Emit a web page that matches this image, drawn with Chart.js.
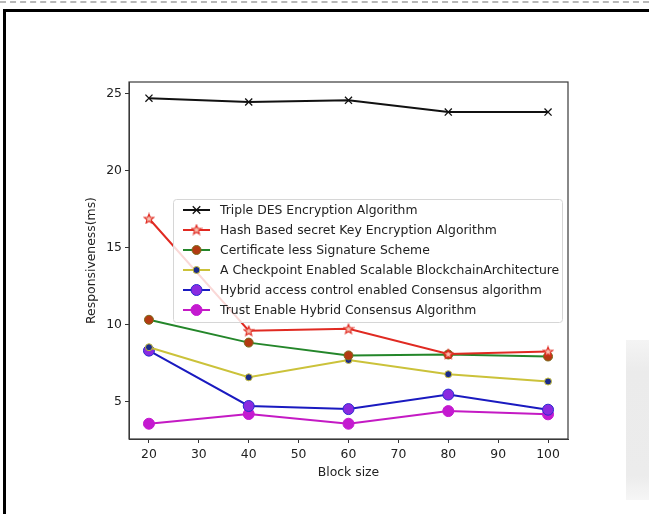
<!DOCTYPE html>
<html lang="en">
<head>
    <meta charset="UTF-8">
    <title>Responsiveness vs Block size</title>
    <script src="https://cdn.jsdelivr.net/npm/chart.js"></script>
    <style>
        body {
            margin: 0;
            background: white;
            overflow: hidden;
            font-family: "DejaVu Sans", sans-serif;
        }
        .dash-line {
            position: absolute;
            left: 0; top: 1px;
            width: 649px; height: 0;
            border-top: 2px dashed #b8b8b8;
        }
        .frame {
            position: absolute;
            left: 3px; top: 9px;
            width: 700px; height: 600px;
            border-left: 3px solid black;
            border-top: 3px solid black;
        }
        .mark {
            position: absolute;
            left: 626px; top: 340px;
            width: 23px; height: 160px;
            background: linear-gradient(#f4f4f4, #ebebeb 20%, #ececec 85%, #f6f6f6);
        }
        .chart-box {
            position: absolute;
            left: 0; top: 0;
            width: 649px; height: 514px;
        }
    </style>
</head>
<body>
    <div class="dash-line"></div>
    <div class="frame"></div>
    <div class="mark"></div>
    <div class="chart-box">
        <canvas id="respChart" width="649" height="514"></canvas>
    </div>
    <script>
        // values
        const blockSizes = [20, 40, 60, 80, 100];
        const tripleDes   = [24.7, 24.45, 24.56, 23.8, 23.8];
        const hashKey     = [16.9, 9.62, 9.75, 8.12, 8.28];
        const certLess    = [10.33, 8.85, 8.02, 8.08, 7.95];
        const checkpoint  = [8.55, 6.6, 7.72, 6.8, 6.33];
        const hybridAcc   = [8.33, 4.74, 4.54, 5.48, 4.5];
        const trustHybrid = [3.59, 4.22, 3.59, 4.41, 4.2];
        const xTicks = [20, 30, 40, 50, 60, 70, 80, 90, 100];
        const yTicks = [5, 10, 15, 20, 25];

        const FONT = { family: 'DejaVu Sans', size: 12.4 };

        // filled 5 point star like matplotlib '*'
        function starImage() {
            const c = document.createElement('canvas');
            c.width = 12; c.height = 12;
            const g = c.getContext('2d');
            g.beginPath();
            for (let i = 0; i < 10; i++) {
                const r = i % 2 === 0 ? 5 : 2.2;
                const a = -Math.PI / 2 + i * Math.PI / 5;
                g.lineTo(6 + r * Math.cos(a), 6.5 + r * Math.sin(a));
            }
            g.closePath();
            g.fillStyle = '#f7c0b0';
            g.fill();
            g.strokeStyle = '#e02a22';
            g.lineWidth = 1.1;
            g.stroke();
            return c;
        }
        const star = starImage();

        function pts(vals) {
            return blockSizes.map((b, i) => ({ x: b, y: vals[i] }));
        }

        const datasets = [
            { label: 'Triple DES Encryption Algorithm', data: pts(tripleDes),
              borderColor: '#111111', pointStyle: 'crossRot', pointRadius: 5,
              pointBorderColor: '#111111', pointBackgroundColor: '#111111', pointBorderWidth: 1.3 },
            { label: 'Hash Based secret Key Encryption Algorithm', data: pts(hashKey),
              borderColor: '#e02a22', pointStyle: star, pointRadius: 5 },
            { label: 'Certificate less Signature Scheme', data: pts(certLess),
              borderColor: '#24862a', pointStyle: 'circle', pointRadius: 4.5,
              pointBackgroundColor: '#b33a12', pointBorderColor: '#7a6a1a', pointBorderWidth: 1 },
            { label: 'A Checkpoint Enabled Scalable BlockchainArchitecture', data: pts(checkpoint),
              borderColor: '#cbc23a', pointStyle: 'circle', pointRadius: 3.5,
              pointBackgroundColor: '#1a2a8a', pointBorderColor: '#c8c040', pointBorderWidth: 1 },
            { label: 'Hybrid access control enabled Consensus algorithm', data: pts(hybridAcc),
              borderColor: '#1a1ac0', pointStyle: 'circle', pointRadius: 5.5,
              pointBackgroundColor: '#8a2ae0', pointBorderColor: '#2a2ad0', pointBorderWidth: 1 },
            { label: 'Trust Enable Hybrid Consensus Algorithm', data: pts(trustHybrid),
              borderColor: '#c41ac4', pointStyle: 'circle', pointRadius: 5.5,
              pointBackgroundColor: '#c41ad0', pointBorderColor: '#c41ad0', pointBorderWidth: 1 }
        ];
        datasets.forEach(d => { d.borderWidth = 2; d.fill = false; d.tension = 0; });

        function drawMarker(g, ds, x, y) {
            const r = ds.pointRadius;
            g.save();
            if (ds.pointStyle instanceof HTMLCanvasElement) {
                g.drawImage(ds.pointStyle, x - 6, y - 6.5);
            } else if (ds.pointStyle === 'crossRot') {
                g.strokeStyle = ds.pointBorderColor;
                g.lineWidth = ds.pointBorderWidth;
                const k = r * 0.75;
                g.beginPath();
                g.moveTo(x - k, y - k); g.lineTo(x + k, y + k);
                g.moveTo(x - k, y + k); g.lineTo(x + k, y - k);
                g.stroke();
            } else {
                g.beginPath();
                g.arc(x, y, r, 0, Math.PI * 2);
                g.fillStyle = ds.pointBackgroundColor;
                g.fill();
                g.strokeStyle = ds.pointBorderColor;
                g.lineWidth = ds.pointBorderWidth;
                g.stroke();
            }
            g.restore();
        }

        // plot frame + matplotlib style legend inside the axes
        const framePlugin = {
            id: 'framePlugin',
            afterDatasetsDraw(chart) {
                const g = chart.ctx;
                const ca = chart.chartArea;
                g.save();
                g.strokeStyle = '#3a3a3a';
                g.lineWidth = 1.2;
                g.strokeRect(ca.left, ca.top, ca.right - ca.left, ca.bottom - ca.top);

                const lx = ca.left + 44, ly = ca.top + 117;
                const lw = 389, lh = 123;
                g.beginPath();
                g.roundRect(lx + 0.5, ly + 0.5, lw, lh, 3);
                g.fillStyle = 'rgba(255,255,255,0.82)';
                g.fill();
                g.strokeStyle = '#d6d6d6';
                g.lineWidth = 1;
                g.stroke();

                g.font = FONT.size + 'px "DejaVu Sans"';
                g.textBaseline = 'middle';
                chart.data.datasets.forEach((ds, i) => {
                    const y = ly + 11 + i * 20;
                    g.beginPath();
                    g.moveTo(lx + 10, y);
                    g.lineTo(lx + 37, y);
                    g.strokeStyle = ds.borderColor;
                    g.lineWidth = 2;
                    g.stroke();
                    drawMarker(g, ds, lx + 23.5, y);
                    g.fillStyle = '#222';
                    g.fillText(ds.label, lx + 47, y + 1);
                });
                g.restore();
            }
        };

        const ctx = document.getElementById('respChart').getContext('2d');
        const chart = new Chart(ctx, {
            type: 'line',
            data: { datasets: datasets },
            options: {
                responsive: false,
                animation: false,
                layout: { padding: { left: 79, right: 81, top: 82, bottom: 30 } },
                plugins: {
                    legend: { display: false },
                    tooltip: { enabled: false }
                },
                scales: {
                    x: {
                        type: 'linear',
                        min: 16,
                        max: 104,
                        afterBuildTicks: s => { s.ticks = xTicks.map(v => ({ value: v })); },
                        afterFit: s => { s.height = 45; },
                        grid: { drawOnChartArea: false, color: '#333', tickLength: 4 },
                        border: { color: '#3a3a3a' },
                        ticks: { color: '#222', font: FONT, padding: 4, maxRotation: 0 },
                        title: { display: true, text: 'Block size', color: '#222',
                                 font: FONT, padding: { top: 0, bottom: 4 } }
                    },
                    y: {
                        min: 2.6,
                        max: 25.75,
                        afterBuildTicks: s => { s.ticks = yTicks.map(v => ({ value: v })); },
                        afterFit: s => { s.width = 50; },
                        grid: { drawOnChartArea: false, color: '#333', tickLength: 4 },
                        border: { color: '#3a3a3a' },
                        ticks: { color: '#222', font: FONT, padding: 3 },
                        title: { display: true, text: 'Responsiveness(ms)', color: '#222',
                                 font: FONT, padding: { top: 5, bottom: 0 } }
                    }
                }
            },
            plugins: [framePlugin]
        });
    </script>
</body>
</html>
